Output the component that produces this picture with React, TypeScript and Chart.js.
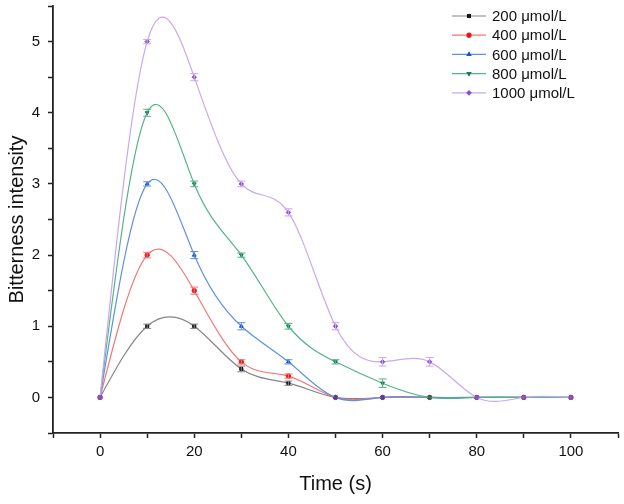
import Chart from "chart.js/auto";
import {drawPoint} from "chart.js/helpers";
import {useEffect, useRef} from "react";

const times = [0, 10, 20, 30, 40, 50, 60, 70, 80, 90, 100];

const seriesNames = ["200 μmol/L", "400 μmol/L", "600 μmol/L", "800 μmol/L", "1000 μmol/L"];

const c200 = [0, 1.0, 1.0, 0.4, 0.2, 0, 0, 0, 0, 0, 0];
const c400 = [0, 2.0, 1.5, 0.5, 0.3, 0, 0, 0, 0, 0, 0];
const c600 = [0, 3.0, 2.0, 1.0, 0.5, 0, 0, 0, 0, 0, 0];
const c800 = [0, 4.0, 3.0, 2.0, 1.0, 0.5, 0.2, 0, 0, 0, 0];
const c1000 = [0, 5.0, 4.5, 3.0, 2.6, 1.0, 0.5, 0.5, 0, 0, 0];

// error bar half-heights
const e200 = [0, 0.03, 0.03, 0.04, 0.03, 0, 0, 0, 0, 0, 0];
const e400 = [0, 0.04, 0.05, 0.03, 0.03, 0, 0, 0, 0, 0, 0];
const e600 = [0, 0.03, 0.05, 0.05, 0.03, 0, 0, 0, 0, 0, 0];
const e800 = [0, 0.05, 0.04, 0.03, 0.04, 0.03, 0.06, 0, 0, 0, 0];
const e1000 = [0, 0.03, 0.05, 0.04, 0.05, 0.05, 0.06, 0.06, 0, 0, 0];

const xTickValues = [-10, 0, 10, 20, 30, 40, 50, 60, 70, 80, 90, 100, 110];
const xTickLabels = [0, 20, 40, 60, 80, 100];
const yTickValues = [-0.5, 0, 0.5, 1, 1.5, 2, 2.5, 3, 3.5, 4, 4.5, 5, 5.5];
const yTickLabels = [0, 1, 2, 3, 4, 5];

const lineColors = ["#858585", "#f27878", "#5f92dc", "#52b488", "#c9a8f2"];
const markColors = ["#151515", "#e8141a", "#1f4fcf", "#1a7d4d", "#8a4fd6"];
const markStyles = ["rect", "circle", "triangle", "triangle", "rectRot"];
const markRotation = [0, 0, 0, 180, 0];

const values = [c200, c400, c600, c800, c1000];
const errors = [e200, e400, e600, e800, e1000];

const FONT = "'Liberation Sans', Arial, sans-serif";

// the original uses a natural cubic spline, so replace chart.js' control points
// with ones from a natural spline through the point elements (pixel space)
const naturalSpline = {
  id: "naturalSpline",
  beforeDatasetDraw(chart: any, args: any) {
    const meta = args.meta;
    const pts = meta.data;
    const n = pts.length;
    if (n < 3) return;
    const X = pts.map((p: any) => p.x);
    const Y = pts.map((p: any) => p.y);
    const h: number[] = [];
    for (let i = 0; i < n - 1; i++) h.push(X[i + 1] - X[i]);
    // tridiagonal solve for second derivatives, M0 = Mn = 0
    const a: number[] = new Array(n).fill(0);
    const b: number[] = new Array(n).fill(1);
    const c: number[] = new Array(n).fill(0);
    const d: number[] = new Array(n).fill(0);
    for (let i = 1; i < n - 1; i++) {
      a[i] = h[i - 1];
      b[i] = 2 * (h[i - 1] + h[i]);
      c[i] = h[i];
      d[i] = 6 * ((Y[i + 1] - Y[i]) / h[i] - (Y[i] - Y[i - 1]) / h[i - 1]);
    }
    for (let i = 1; i < n; i++) {
      const w = a[i] / b[i - 1];
      b[i] -= w * c[i - 1];
      d[i] -= w * d[i - 1];
    }
    const M: number[] = new Array(n).fill(0);
    M[n - 1] = d[n - 1] / b[n - 1];
    for (let i = n - 2; i >= 0; i--) M[i] = (d[i] - c[i] * M[i + 1]) / b[i];
    for (let i = 0; i < n - 1; i++) {
      const hi = h[i];
      const slope = (Y[i + 1] - Y[i]) / hi;
      const s0 = slope - (hi * (2 * M[i] + M[i + 1])) / 6;
      const s1 = slope + (hi * (M[i] + 2 * M[i + 1])) / 6;
      pts[i].cp2x = X[i] + hi / 3;
      pts[i].cp2y = Y[i] + (s0 * hi) / 3;
      pts[i + 1].cp1x = X[i + 1] - hi / 3;
      pts[i + 1].cp1y = Y[i + 1] - (s1 * hi) / 3;
    }
    pts[0].cp1x = X[0];
    pts[0].cp1y = Y[0];
    pts[n - 1].cp2x = X[n - 1];
    pts[n - 1].cp2y = Y[n - 1];
    meta.dataset._pointsUpdated = true;
    meta.dataset._path = undefined;
  },
};

// error bars drawn from the errors arrays through the y scale
const errorBars = {
  id: "errorBars",
  afterDatasetsDraw(chart: any) {
    const ctx = chart.ctx;
    const yScale = chart.scales.y;
    chart.data.datasets.forEach((ds: any, i: number) => {
      const meta = chart.getDatasetMeta(i);
      ctx.save();
      ctx.strokeStyle = lineColors[i];
      ctx.lineWidth = 1;
      meta.data.forEach((pt: any, j: number) => {
        const err = errors[i][j];
        if (!err) return;
        const v = values[i][j];
        const top = yScale.getPixelForValue(v + err);
        const bot = yScale.getPixelForValue(v - err);
        ctx.beginPath();
        ctx.moveTo(pt.x, top);
        ctx.lineTo(pt.x, bot);
        ctx.moveTo(pt.x - 4, top);
        ctx.lineTo(pt.x + 4, top);
        ctx.moveTo(pt.x - 4, bot);
        ctx.lineTo(pt.x + 4, bot);
        ctx.stroke();
      });
      ctx.restore();
    });
  },
};

// legend in the top right corner, line with marker like the original
const cornerLegend = {
  id: "cornerLegend",
  afterDraw(chart: any) {
    const ctx = chart.ctx;
    const x0 = 452;
    const y0 = 16;
    ctx.save();
    seriesNames.forEach((name, i) => {
      const y = y0 + i * 19.2;
      ctx.strokeStyle = lineColors[i];
      ctx.lineWidth = 1.2;
      ctx.beginPath();
      ctx.moveTo(x0, y);
      ctx.lineTo(x0 + 34, y);
      ctx.stroke();
      ctx.fillStyle = markColors[i];
      ctx.strokeStyle = markColors[i];
      drawPoint(ctx, {pointStyle: markStyles[i], radius: 2, rotation: markRotation[i], borderWidth: 1}, x0 + 17, y);
      ctx.fillStyle = "#111";
      ctx.font = "15px " + FONT;
      ctx.textBaseline = "middle";
      ctx.textAlign = "left";
      ctx.fillText(name, x0 + 40, y + 1);
    });
    ctx.restore();
  },
};

const noScalePadding = (scale: any) => {
  scale.paddingTop = 0;
  scale.paddingBottom = 0;
  scale.paddingLeft = 0;
  scale.paddingRight = 0;
};

const BitternessChart = () => {
  const canvasRef = useRef<HTMLCanvasElement>(null);

  useEffect(() => {
    if (!canvasRef.current) return;
    const datasets = values.map((vals, i) => ({
      label: seriesNames[i],
      data: vals.map((v, j) => ({x: times[j], y: v})),
      // later series sit on top, as in the original
      order: values.length - 1 - i,
      borderColor: lineColors[i],
      backgroundColor: markColors[i],
      pointBorderColor: markColors[i],
      pointBackgroundColor: markColors[i],
      pointStyle: markStyles[i],
      pointRotation: markRotation[i],
      pointRadius: 2.2,
      pointBorderWidth: 1,
      borderWidth: 1.2,
      tension: 0.5,
      fill: false,
    }));

    const chart = new Chart(canvasRef.current, {
      type: "line",
      data: {datasets},
      plugins: [naturalSpline, errorBars, cornerLegend],
      options: {
        animation: false,
        responsive: true,
        maintainAspectRatio: false,
        layout: {padding: {top: 6, right: 6, left: 0, bottom: 0}},
        plugins: {
          legend: {display: false},
          tooltip: {enabled: false},
        },
        scales: {
          x: {
            type: "linear",
            min: -10,
            max: 110,
            afterBuildTicks: (scale: any) => {
              scale.ticks = xTickValues.map((v) => ({value: v}));
            },
            afterFit: (scale: any) => {
              scale.height = 71;
              noScalePadding(scale);
            },
            ticks: {
              autoSkip: false,
              maxRotation: 0,
              padding: 5,
              color: "#111",
              font: {family: FONT, size: 15},
              callback: (v: any) => (xTickLabels.includes(v) ? String(v) : ""),
            },
            grid: {
              drawOnChartArea: false,
              drawTicks: true,
              tickLength: 5,
              tickColor: "#222",
              tickWidth: 1.5,
            },
            border: {display: true, color: "#222", width: 1.8},
            title: {
              display: true,
              text: "Time (s)",
              color: "#111",
              font: {family: FONT, size: 20},
              padding: {top: 0, bottom: 8},
            },
          },
          y: {
            type: "linear",
            min: -0.5,
            max: 5.5,
            afterBuildTicks: (scale: any) => {
              scale.ticks = yTickValues.map((v) => ({value: v}));
            },
            afterFit: (scale: any) => {
              scale.width = 53;
              noScalePadding(scale);
            },
            ticks: {
              autoSkip: false,
              padding: 8,
              color: "#111",
              font: {family: FONT, size: 15},
              callback: (v: any) => (yTickLabels.includes(v) ? String(v) : ""),
            },
            grid: {
              drawOnChartArea: false,
              drawTicks: true,
              tickLength: 5,
              tickColor: "#222",
              tickWidth: 1.5,
            },
            border: {display: true, color: "#222", width: 1.8},
            title: {
              display: true,
              text: "Bitterness intensity",
              color: "#111",
              font: {family: FONT, size: 20},
              padding: {top: 5, bottom: 0},
            },
          },
        },
      },
    });

    return () => {
      chart.destroy();
    };
  }, []);

  return (
    <div style={{position: "fixed", left: 0, top: 0, width: 624, height: 504, background: "#fff"}}>
      <canvas ref={canvasRef}></canvas>
    </div>
  );
};

export default function App() {
  return <BitternessChart />;
}
